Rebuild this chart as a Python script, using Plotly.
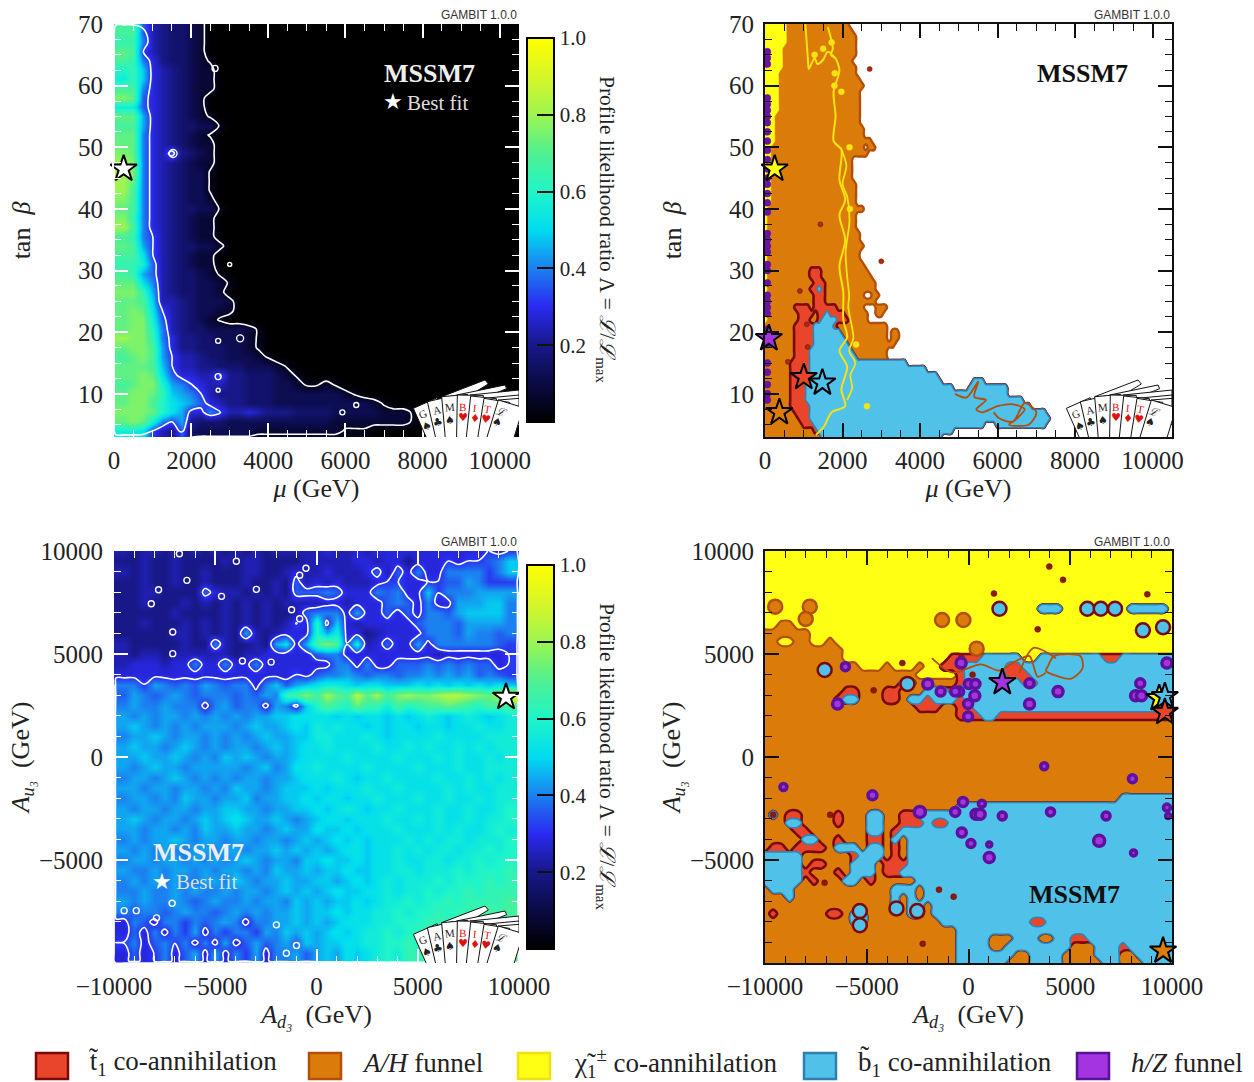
import re
import math
import plotly.graph_objects as go

# ---------------------------------------------------------------- data
W_PX, H_PX = 1254, 1082
MU = [250 * i for i in range(43)]
TB_ROWS = [70 - 1.5 * i for i in range(46)]
A_GRID = [-10000 + 500 * i for i in range(41)]
A_GRID_ROWS = [10000 - 500 * i for i in range(41)]

# profile likelihood, index into 0..P = value*25
TL_Z = [
"7777543322","7HH96544320","7GGA6544320","7IH86544320","7HGA7544321","7FGC7654322","7EGC7654322",
"7HHA7654322","7JI97654320","7EE97654320","7IIB7654321","7HHB76544331","7IIA7654321","7IIA7654322",
"7JIA7695432","7KJA7654322","7LJA7654331","7KIA7654331","7KHA7654331","7JHA7654332","7IHA76544331",
"7JGA7654322","7KHA7654322","7HGA8654322","7IHB86544332","7HHD8654322","7GGE9654322","7HGB96544321",
"7IIDA65443321","7JJGB6544332","7IIHC66543332","7IJID86543322","7IJJE96543210","7IJJFA6544333321",
"7KJJGA7554433321","7IJJHB7554443321","7HIJHB86654433321","7IIIHC8665544433321",
"7IIJID97766855444321","7HIJJFBA8766554443321121","7IJJIGCBA865554443333333 21",
"7IJJHFDCB976554443333333333 21","7JJJIFDB77A866765554444333332221",
"7IJIEA8B5444333333333332222222 21","7EED86594333333222222222111","0000000000000",
]
BL_Z = [
"5656656565 6565656666 6766767777 77777778787","5556556555 5656655556 6666776775 77787889AC7",
"5656556556 5556655676 6766679697 A77AAAA8AC7","5556556556 5556556596 7676667887 78899BA8887",
"5556655559 7665656599 9A9777A9A7 7C8AAABBBB1","5556555656 5656565666 6776777 9A9 7A77BBBCCA1",
"5555556555 5656565569 AAA7B77979 7AA9BCCCCA1","5556555656 5656565687 F7C7677777 9AAA9BBBBA1",
"5555556656 565B656777 FBE7756777 7AAA9BAA9A1","5655555655 A65565BD7B HJH8E67977 B7AAAAAA981",
"5656656666 6656677777 9AA7777777 77677777781","66777677A7 7A77A77777 77AA7A7799 9A9A9A99781",
"7777777777 7777777787 9AABA9AA9A ABABAB9A981","1AA8BA9A9B A9AA7AC9BC DEEDCDDCCC DCDCDCDCDC1",
"19BA9ABA9A AA9A9BAGHJ HKIHLIKHJK JJKLLKJILO1","1ABAABAAA7 AB9AA7BA7C FHGFIGGEHF GHHIHGFHGH1",
"1BABABBABA BABABBCCDD DDCDCDDCDC DEDCDEDCDE1","1BCBABABAB BBABCBBCDC EDEDDCDCDD CDDCDDEDDE1",
"1ABBCBABBA BABABCBBCC EEDDDEDCDD DDEDDDDEEE1","1BCBBABCBA BABBABCBCD DEDDDDEDDE DEDDEDEDEE1",
"1BBCBBCBAB ACBCBABBCD DDDEDDDDED DDEDEDDEDE1","1BABCBBABB BBBABCABDD EDDDDEDDDD EDDDEDDEEE1",
"1ABBABCBAB ABABBABBCD DDEDCDDEDD DDEDDEDEDE1","1BBABBABBA BACBBABCCC DCDDDEDDED DDDEDEDDEE1",
"1ABBABACBB ABBCABBCCD CDDCDDEDDD EDDEDDEDEE1","1BABBABBAB BCCBBABBCC DCDEDCDDED DDEDDEDDEF1",
"1BCBABBABC BCDCBBCBAB CDDCDDDEDD EDEDDEDEEF1","1BBABBABAC BBCBBABCBB DCCDCDDDED DDEDEDDEFE1",
"1ABABBCBAB BABBABBABC BCDCDCDDDE DEDEEDEEEF1","1BABABAABB ABBABBCBCB CBCDDCDDED EDEEDEEFEF1",
"1ABBABBABA BABCBABBAC CDCCDCDDED DEEDEEFEFF1","1BAABABBAB ABBABACBBC BCCDCCDDEE DEEEFEFFFG1",
"1ABABABAAB BACBABBCBB CCBCDCDEDE EEFEFFFGFG1","1AABAABABA ABABBABCBC BCDCCDDEDE EFEFFGFGGG1",
"1BABAABA9A BAABABBACB CBCCDCDEEF EFFGFGGGGH1","1A9AA9ABAA 9ABABABBCB CCDCDDEEFE FFGFGGGHGH1",
"17A97AA8A9 ABA7AABBCB CBCDDDEEFF FGGGGHHHHH1","1797A7A8B7 A8AA8BACBC BCDCDEEFEF GFGHGHHHHH1",
"18A79A8A7A 7B79B9AB9C BCCDDEEFFG FGHGHHHIHI1","17978A79B7 B7A8B7AAB9 BCBDCDEFEG GGHHHHIIII1",
"1111111111 1111111111 1111111111 11111111111",
]
# dominant annihilation mechanism, run-length rows (Y chargino, O A/H, R stop, B sbottom, W none)
TR_X = [100 * i for i in range(81)]
TR_Y = [70 - i for i in range(68)]
TR_RUNS = [
"6Y16O","6Y17O","6Y18O","6Y18O","5Y19O","5Y19O","5Y18O","5Y19O","4Y20O","4Y21O","4Y22O","4Y21O","4Y21O","4Y21O","4Y21O",
"3Y22O","3Y22O","3Y23O","3Y23O","3Y25O","2Y24O1W2O","2Y25O","2Y21O","2Y21O","2Y21O","2Y21O","2Y22O","2Y22O","2Y22O","2Y22O",
"1Y25O","1Y23O","1Y23O","1Y23O","1Y24O","1Y24O","1Y25O","1Y24O","1Y24O","1Y25O",
"1Y11O3R12O","1Y11O3R13O","1Y12O3R13O","1Y11O2R1B1R13O","1Y12O3R10O2W2O","1Y12O3R13O",
"1Y7O4R1O6R7O3W3O","1Y8O4R1O2R1B4R6O2W2O","1Y8O3R2O1R4B3R5O","8O5R5B1R13O","8O5R7B12O1W2O","8O5R8B11O1W2O","8O5R9B12O",
"8O4R11B9O","8O4R12B8O","7O5R25B","7O5R30B","7O5R33B","7O4R35B8W3B","7O4R38B4W10B","7O4R52B","7O4R56B","7O5R57B","8O4R61B",
"9O3R62B","10O3R44B3W13B","13O1R35B","15O31B",
]
BR_X = [-10000 + 400 * i for i in range(51)]
BR_Y = [10000 - 400 * i for i in range(51)]
BR_RUNS = [
"51Y","51Y","51Y","51Y","51Y","51Y","51Y","34Y3B8Y5B1Y","51Y","2Y2O47Y","6O45Y","2O2Y2O2Y1O42Y","10O41Y",
"10O13Y4R5B2Y8B2R7B","12O3Y1O3Y1O2Y3R5B2R19B","19O5Y1R5B3R18B","17O2B5O1R7B2R17B","10O2R3O2R3O3B1R27B",
"9O1R2B3O2R1O2B1R3B1R26B","19O3R2O2R25B","24O3R2B22R","51O","51O","51O","51O","51O","51O","51O","51O","51O",
"44O7B","24O27B","1O1B1O2R4O1R3O2B2O2R32B","3O2B4O1R3O2B2O3R1B2R28B","4O2R7O2B1O1R1B33B","5O2B2O1R3O2R1O1B1O33B",
"1O2R1O4R1O3B1O2B1O1R1O33B","5B6O1R3B1O1R1O33B","5B1O2R3O3B1O3R33B","5B1R3O1R1O3B1O2R1B33B","5B1O1R3O2B1O1R5O32B",
"1O3B12O3B1O31B","3O1B12O1B1O1B1O31B","16O1B1O2B1O30B","1O1R6O2R1O2B5O2B1O30B","11O2B9O11B2R16B","24O27B",
"24O4B3O3B2O2B2R11B","24O4B2O8B3O3B1R6B","24O7B2O4B4O3B2O5B","24O6B3O4B5O2B3O4B",
]
# small islands
TL_RING_X = [2620, 1530, 3000, 2700, 3270, 6280, 2700, 2700, 5920]
TL_RING_Y = [62.8, 49, 31, 18.6, 19, 8.2, 12.8, 10.6, 7]
TL_RING_S = [6, 8, 4, 5, 7, 5, 6, 4, 5]
BL_RING_X = [-6400, -7800, -8160, -7100, -7100, -4690, -2970, -830, -520, -3960, -6770, -1230, -830, -3660, -2240, -7130, -9500, -8900, -7900, -1980, -990, -1490]
BL_RING_Y = [8577, 8120, 7440, 6070, 5020, 7800, 8140, 8820, 9160, 9500, 9870, 7150, 6710, 4660, 4610, -7090, -7450, -7450, -7800, -8140, -9140, -9515]
TR_PURPLE_Y = [65.5,64.5,63.5,58,57,56,55,54,52.5,51,49.5,48,46.5,45,44,42.5,41,39.5,36,35,34,33,31,30,28,26,25,24,23,20.5,19.5,18,15,13.5,11.5,10,9]
TR_DOT_X = [2700, 3000, 900, 1080, 1100, 590, 1430]
TR_DOT_Y = [62.7, 31.5, 26.7, 21.3, 17.6, 15.2, 37.5]
TR_YEL_X = [1040,1110,1130,1280,1350,1500,1620,1820,None,1620,1750,1700,1820,1920,1770,1820,1770,1970,1920,2070,1920,2070,1920,2020,2020,2120,1920,2120,1970,2070,1720,1520,1310]
TR_YEL_Y = [70,64,62.7,64.5,63.5,64.2,65.5,64.4,None,69.5,66,65,64.4,62.5,59,55,51,49.6,44.7,41.5,39,35,30.7,26.5,22,19.2,17,14.4,10.7,8,7,4.7,3.3]
TR_YEL2_X = [1950,2100,2000,2120,2180,2080,2120,2170,2150,2280,2170,2330,2200,2250,2120]
TR_YEL2_Y = [50,47,44,42,38,33,29,26,24,19,17,15,13,11,9]
TR_YDOT_X = [1280, 1790, 1970, 2180, 2350, 1500, 1720, 2630, 2190, 1800]
TR_YDOT_Y = [65, 60, 59, 50, 18, 66, 67, 8, 40, 62]
TR_LOOP_X = [4900,5200,5500,5400,5700,5450,5600,6000,6400,6700,6500,6300,6800,7000,6700,6400,6050,5900]
TR_LOOP_Y = [10,9.4,12,9.5,9,7.5,7,8,8.3,7.5,6,5,5,7,8.5,5.5,6,7]
BR_P_X = [-9094,-6050,-4720,-6435,-2000,-365,-1370,20,340,-460,-650,310,-20,-20,3000,3000,4400,8440,8210,8500,9750,3720,8056,-270,370,570,-655,-2390,657,1660,4030,6760,9750,9810,-330,120,1020,1020,6420,8110]
BR_P_Y = [-1452,4387,-1856,2580,3550,4565,3177,3548,3548,3177,3177,2980,2580,1967,3580,2580,3177,3580,2980,2980,4565,-440,-1050,-2180,-2775,-2775,-2660,-2660,-2260,-2860,-2660,-2860,-2450,-2860,-3660,-4190,-4240,-4870,-4060,-4650]
BR_P_S = [7,8,9,10,10,10,9,9,9,9,9,10,9,9,9,10,10,9,10,10,10,7,8,9,10,10,9,11,7,8,8,8,7,5,9,8,5,10,11,6]
BR_RING_X = [1522,5840,6500,7200,-7070,-5340,-5340,-2520,-3540,-3000,8570,9560,-1300,-250,-9500,-7800,-8000,400]
BR_RING_Y = [7200,7200,7200,7200,4225,-7470,-8160,-7470,-7340,3550,6150,6300,6650,6650,7300,7300,6700,5260]
BR_RING_KIND = ["B","B","B","B","B","B","B","B","B","B","B","B","O","O","O","O","O","O"]
BR_DOT_X = [3969,4644,1252,8786,-9600,-6800,-4660,-3250,-7070,-1450,-730,-2250,3400,-350,200]
BR_DOT_Y = [9242,8600,7935,7900,-2800,-2800,3240,4560,-6100,-6430,-6770,-9060,6200,4830,4000]
BR_LOOP_X = [-1800,-800,600,1500,2400,3000,3400,3800,None,3800,5000,5600,5500,4200,3900,3800,None,2500,3200,4300]
BR_LOOP_Y = [4800,4100,4500,4200,4700,4900,3900,4100,None,4200,3800,4300,4900,4900,4400,4200,None,4100,5300,4800]
STARS_TL = ([250], [46.5])
STARS_BL = ([9358], [2910])
STARS_TR = ([100, 250, 1000, 1480, 370], [19, 46.5, 12.7, 11.8, 7], ["#a433e0", "#ffff14", "#e8452b", "#50c1e8", "#db7c0a"])
STARS_BR = ([1660, 9370, 9650, 9650, 9560], [3630, 2855, 2950, 2180, -9400], ["#a433e0", "#ffff14", "#50c1e8", "#e8452b", "#db7c0a"])
LEGEND_NAMES = ["t̃<sub>1</sub> co-annihilation", "<i>A/H</i> funnel", "χ̃<sub>1</sub><sup>±</sup> co-annihilation", "b̃<sub>1</sub> co-annihilation", "<i>h/Z</i> funnel"]
LEGEND_FILL = ["#e8452b", "#db7c0a", "#ffff14", "#50c1e8", "#a433e0"]
LEGEND_LINE = ["#7a0a0a", "#b34f0a", "#f0e010", "#2f7fb0", "#5a1295"]
COLORBAR_MINOR = [0.05, 0.1, 0.15, 0.25, 0.3, 0.35, 0.45, 0.5, 0.55, 0.65, 0.7, 0.75, 0.85, 0.9, 0.95]

# ---------------------------------------------------------------- helpers
SERIF = "Liberation Serif"
CHARS = "0123456789ABCDEFGHIJKLMNOP"
CSCALE = [[0, "#000000"], [0.1, "#0a0a44"], [0.2, "#181888"], [0.3, "#2a2af0"], [0.4, "#1b80f0"], [0.5, "#00dcf0"],
          [0.6, "#1ff5c8"], [0.7, "#50f090"], [0.8, "#9cf550"], [0.9, "#d8f528"], [1, "#ffff00"]]
PANELS = {
    "tl": dict(px=(114, 519, 24, 437), xr=[0, 10500], yr=[3, 70], xa="x", ya="y"),
    "tr": dict(px=(765, 1172, 24, 437), xr=[0, 10500], yr=[3, 70], xa="x2", ya="y2"),
    "bl": dict(px=(114, 519, 551, 963), xr=[-10000, 10000], yr=[-9990, 10000], xa="x3", ya="y3"),
    "br": dict(px=(765, 1172, 551, 963), xr=[-10000, 10000], yr=[-9990, 10000], xa="x4", ya="y4"),
}

def decode(rows, n):
    out = []
    for r in rows:
        vals = [CHARS.index(c) / 25 for c in r.replace(" ", "")]
        vals += [0.0] * (n - len(vals))
        out.append(vals[:n])
    return out

def runs(rows, n):
    out = []
    for r in rows:
        s = "".join(c * int(k) for k, c in re.findall(r"(\d+)([A-Z])", r))
        out.append((s + "W" * n)[:n])
    return out

fig = go.Figure()

def heat(panel, x, y, z, cbar_y0, both_sides):
    p = PANELS[panel]
    # the boundary rows only close the contours; the colour map repeats their neighbours
    hz = [list(r) for r in z]
    hz[0] = list(hz[1]) if not both_sides else hz[0]
    hz[-1] = list(hz[-2])
    for r in hz:
        r[0] = r[1]
        if both_sides:
            r[-1] = r[-2]
    fig.add_trace(go.Heatmap(x=x, y=y, z=hz, zmin=0, zmax=1, zsmooth="best", colorscale=CSCALE, xaxis=p["xa"], yaxis=p["ya"], hoverinfo="skip",
        colorbar=dict(x=527 / W_PX, xanchor="left", xpad=0, thickness=27, thicknessmode="pixels", lenmode="fraction", len=384 / H_PX,
                      y=1 - cbar_y0 / H_PX, yanchor="bottom", ypad=0, outlinewidth=2, outlinecolor="black",
                      tickmode="array", tickvals=[0.2, 0.4, 0.6, 0.8, 1.0], ticktext=["0.2", "0.4", "0.6", "0.8", "1.0"],
                      ticks="inside", ticklen=18, tickwidth=1.5, tickcolor="#111", tickfont=dict(family=SERIF, size=21, color="#222"))))
    # contour grid with the closing rows pulled close to the frame
    step = abs(x[1] - x[0])
    cx = [x[0], x[0] + step * 0.2] + x[1:]
    cz = [[r[0], r[1]] + r[1:] for r in z]
    if both_sides:
        cx = cx[:-1] + [x[-1] - step * 0.2, x[-1]]
        cz = [r[:-1] + [r[-2], r[-1]] for r in cz]
        cy = y[:-1] + [y[-1] + step * 0.2, y[-1]]
        cz = cz[:-1] + [cz[-2], cz[-1]]
    else:
        cy = y
    fig.add_trace(go.Contour(x=cx, y=cy, z=cz, xaxis=p["xa"], yaxis=p["ya"], showscale=False, hoverinfo="skip", autocontour=False,
        contours=dict(start=0.05, end=0.317, size=0.267, coloring="lines"),
        line=dict(color="white", width=1.6, smoothing=1), colorscale=[[0, "white"], [1, "white"]]))

def mask(panel, x, y, grid, chars, fill, line, width):
    p = PANELS[panel]
    z = [[1 if c in chars else 0 for c in row] for row in grid]
    fig.add_trace(go.Contour(x=x, y=y, z=z, zmin=0, zmax=1, xaxis=p["xa"], yaxis=p["ya"], showscale=False, hoverinfo="skip", autocontour=False,
        contours=dict(start=0.5, end=0.5, size=1, coloring="fill"), line=dict(color=line, width=width, smoothing=0.9),
        colorscale=[[0, "rgba(0,0,0,0)"], [0.5, "rgba(0,0,0,0)"], [0.5, fill], [1, fill]]))

def pts(panel, x, y, size, fill, line, lw, symbol="circle", mode="markers"):
    p = PANELS[panel]
    fig.add_trace(go.Scatter(x=x, y=y, mode=mode, xaxis=p["xa"], yaxis=p["ya"], showlegend=False, hoverinfo="skip", cliponaxis=False if symbol == "star" else True,
        marker=dict(size=size, color=fill, symbol=symbol, opacity=1, line=dict(color=line, width=lw))))

def curve(panel, x, y, color, width):
    p = PANELS[panel]
    fig.add_trace(go.Scatter(x=x, y=y, mode="lines", xaxis=p["xa"], yaxis=p["ya"], showlegend=False, hoverinfo="skip",
                             line=dict(color=color, width=width, shape="spline", smoothing=0.8)))

# ---------------------------------------------------------------- panels
heat("tl", MU, TB_ROWS, decode(TL_Z, len(MU)), 422, False)
pts("tl", TL_RING_X, TL_RING_Y, TL_RING_S, "rgba(0,0,0,0)", "white", 1.4)
pts("tl", *STARS_TL, 20, "white", "black", 2, "star")

heat("bl", A_GRID, A_GRID_ROWS, decode(BL_Z, 41), 949, True)
pts("bl", BL_RING_X, BL_RING_Y, 6, "rgba(0,0,0,0)", "white", 1.4)
pts("bl", *STARS_BL, 20, "white", "black", 2, "star")

tr = runs(TR_RUNS, 81)
mask("tr", TR_X, TR_Y, tr, "YORB", "#db7c0a", "#b34f0a", 2.4)
mask("tr", TR_X, TR_Y, tr, "Y", "#ffff14", "#ffff14", 0.5)
mask("tr", TR_X, TR_Y, tr, "RB", "#e8452b", "#7a0a0a", 2.6)
mask("tr", TR_X, TR_Y, tr, "B", "#50c1e8", "#2f86b5", 1.6)
curve("tr", TR_LOOP_X, TR_LOOP_Y, "#b34f0a", 1.8)
curve("tr", TR_YEL_X, TR_YEL_Y, "#f7e312", 2)
curve("tr", TR_YEL2_X, TR_YEL2_Y, "#f7e312", 1.8)
pts("tr", TR_YDOT_X, TR_YDOT_Y, 6, "#f7e312", "#f7e312", 0.5)
pts("tr", [60] * len(TR_PURPLE_Y), TR_PURPLE_Y, 7, "#6a12a8", "#5a1295", 0.5)
pts("tr", TR_DOT_X, TR_DOT_Y, 5, "#a3300a", "#7a0a0a", 0.5)
pts("tr", STARS_TR[0], STARS_TR[1], 20, STARS_TR[2], "black", 2, "star")

br = runs(BR_RUNS, 51)
mask("br", BR_X, BR_Y, br, "YORB", "#ffff14", "#ffff14", 0.5)
mask("br", BR_X, BR_Y, br, "ORB", "#db7c0a", "#b34f0a", 2.2)
mask("br", BR_X, BR_Y, br, "RB", "#e8452b", "#7a0a0a", 2.6)
mask("br", BR_X, BR_Y, br, "B", "#50c1e8", "#2f86b5", 1.6)
curve("br", BR_LOOP_X, BR_LOOP_Y, "#b34f0a", 1.8)
ring_fill = ["#50c1e8" if k == "B" else "#db7c0a" for k in BR_RING_KIND]
ring_line = ["#7a0a0a" if k == "B" else "#b34f0a" for k in BR_RING_KIND]
fig.add_trace(go.Scatter(x=BR_RING_X, y=BR_RING_Y, mode="markers", xaxis="x4", yaxis="y4", showlegend=False, hoverinfo="skip",
                         marker=dict(size=14, color=ring_fill, opacity=1, line=dict(color=ring_line, width=2.5))))
pts("br", BR_DOT_X, BR_DOT_Y, 6, "#8a1a0a", "#7a0a0a", 0.5)
pts("br", BR_P_X, BR_P_Y, BR_P_S, "#a433e0", "#5c129c", 3.5)
pts("br", STARS_BR[0], STARS_BR[1], 20, STARS_BR[2], "black", 2, "star")

# ---------------------------------------------------------------- axes
layout = dict(width=W_PX, height=H_PX, margin=dict(l=0, r=0, t=0, b=0, autoexpand=False), paper_bgcolor="white", plot_bgcolor="white", showlegend=False)
def axis(dom, rng, dtick, minor, col, line, title, anchor, standoff, label_gap):
    return dict(domain=dom, range=rng, dtick=dtick, tick0=0, ticks="inside", ticklen=14, tickwidth=1.6, tickcolor=col, mirror="ticks",
                showline=True, linecolor=line, linewidth=2, showgrid=False, zeroline=False, anchor=anchor, automargin=False, ticklabelstandoff=label_gap,
                tickformat="d", minor=dict(dtick=minor, tick0=0, ticks="inside", ticklen=7, tickwidth=1.2, tickcolor=col, showgrid=False),
                tickfont=dict(family=SERIF, size=25, color="#222"), title=dict(text=title, font=dict(family=SERIF, size=26, color="#222"), standoff=standoff))
titles = {"tl": ("<i>μ</i> (GeV)", "tan  <i>β</i>"), "tr": ("<i>μ</i> (GeV)", "tan  <i>β</i>"),
          "bl": ("<i>A<sub>d₃</sub></i>  (GeV)", "<i>A<sub>u₃</sub></i>  (GeV)"), "br": ("<i>A<sub>d₃</sub></i>  (GeV)", "<i>A<sub>u₃</sub></i>  (GeV)")}
for key, p in PANELS.items():
    x0, x1, y0, y1 = p["px"]
    dark = key in ("tr", "br")
    tick, frame = ("#111", "#111") if dark else ("white", "white")
    top = key in ("tl", "tr")
    xn = "xaxis" + p["xa"][1:]
    yn = "yaxis" + p["ya"][1:]
    layout[xn] = axis([x0 / W_PX, x1 / W_PX], p["xr"], 2000 if top else 5000, 500 if top else 1000, tick, frame, titles[key][0], p["ya"], 4, 0)
    layout[yn] = axis([1 - y1 / H_PX, 1 - y0 / H_PX], p["yr"], 10 if top else 5000, 2.5 if top else 1000, tick, frame, titles[key][1], p["xa"], 40 if top else 2, 4)

# ---------------------------------------------------------------- annotations and logo
ann, shapes = [], []
def text(px, py, s, size, color="#222", family=SERIF, xanchor="center", angle=0, yanchor="middle"):
    ann.append(dict(xref="paper", yref="paper", x=px / W_PX, y=1 - py / H_PX, text=s, showarrow=False, xanchor=xanchor, yanchor=yanchor,
                    textangle=angle, font=dict(family=family, size=size, color=color)))

CARD_LETTERS = ["G", "A", "M", "B", "I", "T", "<i>ℒ</i>"]
CARD_SUITS = ["♠", "♣", "♠", "♥", "♦", "♥", "♠"]
CARD_COL = ["#222", "#222", "#222", "#e01010", "#e01010", "#e01010", "#222"]
CARD_TILT = [24, 13, 5, -1, -6, -9, -17]
CARD_TOP = [(40, 115), (82, 95), (125, 80), (172, 75), (212, 78), (252, 85), (295, 90)]
LETTER_AT = [(68, 133), (110, 120), (150, 112), (188, 112), (225, 113), (262, 117), (305, 125)]
SUIT_AT = [(80, 170), (113, 158), (150, 150), (188, 143), (224, 145), (259, 148), (292, 158)]
BACK = [[(125, 80), (255, 30), (265, 42), (170, 100)], [(170, 75), (315, 45), (320, 56), (210, 100)], [(210, 75), (357, 60), (357, 130), (252, 100)],
        [(252, 85), (357, 75), (357, 130), (295, 110)], [(295, 90), (357, 85), (357, 130), (320, 110)]]

def logo(key):
    p = PANELS[key]
    x0, x1, y0, y1 = p["px"]
    def dat(zx, zy):
        px_ = x1 + (zx - 357) / 3
        py_ = y1 + (zy - 201) / 3
        dx = p["xr"][0] + (px_ - x0) / (x1 - x0) * (p["xr"][1] - p["xr"][0])
        dy = p["yr"][0] + (y1 - py_) / (y1 - y0) * (p["yr"][1] - p["yr"][0])
        return dx, dy
    def poly(points):
        d = "M " + " L ".join("%.2f,%.2f" % dat(*q) for q in points) + " Z"
        shapes.append(dict(type="path", path=d, xref=p["xa"], yref=p["ya"], fillcolor="white", line=dict(color="#111", width=1), layer="above"))
    for b in BACK:
        poly(b)
    for (tx, ty), a in zip(CARD_TOP, CARD_TILT):
        r = math.radians(a)
        w, h = 78, 200
        poly([(tx, ty), (tx + w * math.cos(r), ty - w * math.sin(r)),
              (tx + w * math.cos(r) + h * math.sin(r), ty - w * math.sin(r) + h * math.cos(r)), (tx + h * math.sin(r), ty + h * math.cos(r))])
    for i in range(7):
        lx, ly = LETTER_AT[i]
        sx, sy = SUIT_AT[i]
        text(x1 + (lx - 357) / 3, y1 + (ly - 201) / 3, CARD_LETTERS[i], 11, CARD_COL[i], angle=-CARD_TILT[i])
        text(x1 + (sx - 357) / 3, y1 + (sy - 201) / 3, CARD_SUITS[i], 11, CARD_COL[i], family="DejaVu Sans", angle=-CARD_TILT[i])

for key, p in PANELS.items():
    if key != "br":
        logo(key)
    text(p["px"][1], p["px"][2] - 9, "GAMBIT 1.0.0", 12, "#333", "Liberation Sans", xanchor="right")

# colour bar minor ticks and titles
for y_bottom in (422, 949):
    for v in COLORBAR_MINOR:
        yy = 1 - (y_bottom - v * 384) / H_PX
        shapes.append(dict(type="line", xref="paper", yref="paper", x0=(554 - 9) / W_PX, x1=554 / W_PX, y0=yy, y1=yy, line=dict(color="#111", width=1.2)))
    text(606, y_bottom - 192, "Profile likelihood ratio Λ = <i>ℒ</i>/<i>ℒ</i><sub>max</sub>", 21.5, "#222", angle=90)

text(430, 74, "<b>MSSM7</b>", 26, "#eeeeee")
text(405, 103, "Best fit", 21, "#dddddd", xanchor="left")
text(393, 102, "★", 22, "white", "DejaVu Sans")
text(1082, 74, "<b>MSSM7</b>", 26, "#111")
text(199, 852, "<b>MSSM7</b>", 26, "#eeeeee")
text(174, 882, "Best fit", 21, "#dddddd", xanchor="left")
text(162, 881, "★", 22, "white", "DejaVu Sans")
text(1074, 894, "<b>MSSM7</b>", 26, "#111")

SW_X = [36, 309, 518, 804, 1077]
TX_X = [87, 360, 572, 856, 1129]
for i in range(5):
    shapes.append(dict(type="rect", xref="paper", yref="paper", x0=SW_X[i] / W_PX, x1=(SW_X[i] + 32) / W_PX, y0=1 - 1079 / H_PX, y1=1 - 1053 / H_PX,
                       fillcolor=LEGEND_FILL[i], line=dict(color=LEGEND_LINE[i], width=2.5)))
    text(TX_X[i], 1063, LEGEND_NAMES[i], 27, "#222", xanchor="left")

layout["annotations"] = ann
layout["shapes"] = shapes
fig.update_layout(**layout)
fig.write_html("out.html", config={"displayModeBar": False}, post_script="document.body.style.margin='0';document.body.style.overflow='hidden';")
